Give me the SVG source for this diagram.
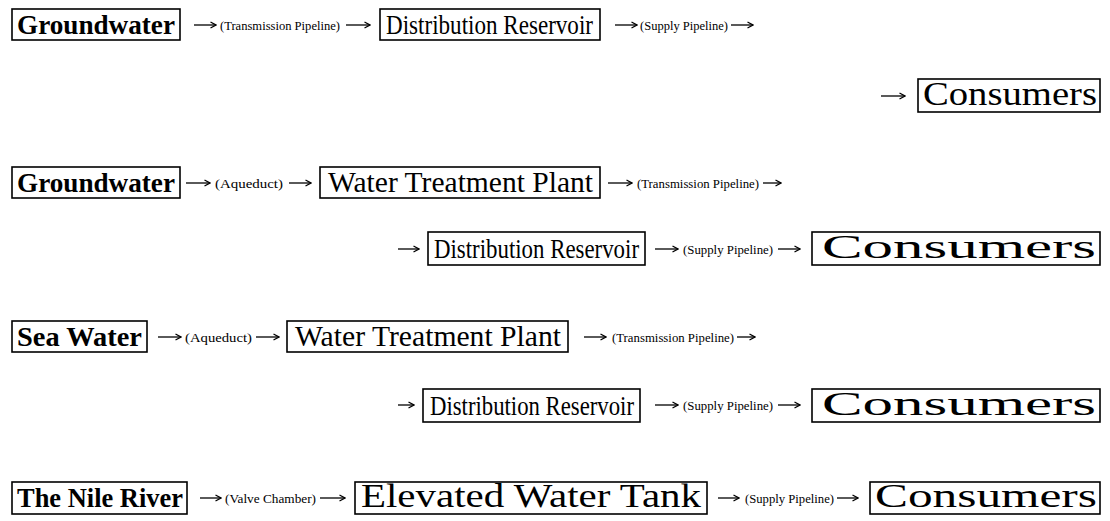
<svg xmlns="http://www.w3.org/2000/svg" width="1110" height="521" viewBox="0 0 1110 521">
<defs>
<marker id="ah" viewBox="0 0 8 8" refX="7" refY="4" markerWidth="8" markerHeight="8" markerUnits="userSpaceOnUse" orient="auto">
<path d="M1.5,1 L7,4 L1.5,7" fill="none" stroke="#000" stroke-width="1.3"/>
</marker>
<style>
rect.n{fill:#fff;stroke:#000;stroke-width:1.6}
text.b{font-family:"Liberation Serif",serif;font-size:28px;font-weight:bold;fill:#000}
text.r{font-family:"Liberation Serif",serif;font-size:29px;fill:#000}
text.s{font-family:"Liberation Serif",serif;font-size:13.5px;fill:#000}
line.c{stroke:#000;stroke-width:1.3;marker-end:url(#ah)}
</style>
</defs>
<rect width="1110" height="521" fill="#fff"/>
<g id="connectors">
<line class="c" x1="194" y1="25" x2="216" y2="25"/>
<line class="c" x1="346" y1="25" x2="370" y2="25"/>
<line class="c" x1="615" y1="25" x2="637" y2="25"/>
<line class="c" x1="731" y1="25" x2="753" y2="25"/>
<line class="c" x1="881" y1="96" x2="905" y2="96"/>
<line class="c" x1="186" y1="183" x2="210" y2="183"/>
<line class="c" x1="289" y1="183" x2="311" y2="183"/>
<line class="c" x1="608" y1="183" x2="632" y2="183"/>
<line class="c" x1="763" y1="183" x2="781" y2="183"/>
<line class="c" x1="398" y1="249" x2="419" y2="249"/>
<line class="c" x1="655" y1="249" x2="678" y2="249"/>
<line class="c" x1="778" y1="249" x2="800" y2="249"/>
<line class="c" x1="158" y1="337" x2="181" y2="337"/>
<line class="c" x1="256" y1="337" x2="279" y2="337"/>
<line class="c" x1="584" y1="337" x2="606" y2="337"/>
<line class="c" x1="737" y1="337" x2="755" y2="337"/>
<line class="c" x1="398" y1="405" x2="414" y2="405"/>
<line class="c" x1="655" y1="405" x2="678" y2="405"/>
<line class="c" x1="778" y1="405" x2="800" y2="405"/>
<line class="c" x1="200" y1="498" x2="221" y2="498"/>
<line class="c" x1="320" y1="498" x2="345" y2="498"/>
<line class="c" x1="718" y1="498" x2="739" y2="498"/>
<line class="c" x1="837" y1="498" x2="858" y2="498"/>
</g>
<g id="labels">
<text class="s" x="220" y="30" textLength="120" lengthAdjust="spacingAndGlyphs">(Transmission Pipeline)</text>
<text class="s" x="640" y="30" textLength="88" lengthAdjust="spacingAndGlyphs">(Supply Pipeline)</text>
<text class="s" x="215" y="188" textLength="68" lengthAdjust="spacingAndGlyphs">(Aqueduct)</text>
<text class="s" x="637" y="188" textLength="122" lengthAdjust="spacingAndGlyphs">(Transmission Pipeline)</text>
<text class="s" x="683" y="254" textLength="90" lengthAdjust="spacingAndGlyphs">(Supply Pipeline)</text>
<text class="s" x="185" y="342" textLength="67" lengthAdjust="spacingAndGlyphs">(Aqueduct)</text>
<text class="s" x="612" y="342" textLength="122" lengthAdjust="spacingAndGlyphs">(Transmission Pipeline)</text>
<text class="s" x="683" y="410" textLength="90" lengthAdjust="spacingAndGlyphs">(Supply Pipeline)</text>
<text class="s" x="225" y="503" textLength="91" lengthAdjust="spacingAndGlyphs">(Valve Chamber)</text>
<text class="s" x="745" y="503" textLength="89" lengthAdjust="spacingAndGlyphs">(Supply Pipeline)</text>
</g>
<g id="n1"><rect class="n" x="12" y="9" width="168" height="31"/><text class="b" x="17" y="34" textLength="158" lengthAdjust="spacingAndGlyphs">Groundwater</text></g>
<g id="n2"><rect class="n" x="380" y="9" width="220" height="31"/><text class="r" x="386" y="34" style="font-size:27px" textLength="207" lengthAdjust="spacingAndGlyphs">Distribution Reservoir</text></g>
<g id="n3"><rect class="n" x="918" y="79" width="182" height="33"/><text class="r" x="923" y="105" style="font-size:34px" textLength="174" lengthAdjust="spacingAndGlyphs">Consumers</text></g>
<g id="n4"><rect class="n" x="12" y="167" width="168" height="31"/><text class="b" x="17" y="192" textLength="158" lengthAdjust="spacingAndGlyphs">Groundwater</text></g>
<g id="n5"><rect class="n" x="320" y="167" width="280" height="31"/><text class="r" x="328" y="192" textLength="265" lengthAdjust="spacingAndGlyphs">Water Treatment Plant</text></g>
<g id="n6"><rect class="n" x="428" y="232" width="217" height="33"/><text class="r" x="434" y="258" style="font-size:28px" textLength="205" lengthAdjust="spacingAndGlyphs">Distribution Reservoir</text></g>
<g id="n7"><rect class="n" x="812" y="232" width="288" height="33"/><text class="r" x="822" y="258" style="font-size:34px" textLength="274" lengthAdjust="spacingAndGlyphs">Consumers</text></g>
<g id="n8"><rect class="n" x="12" y="321" width="135" height="31"/><text class="b" x="17" y="346" textLength="125" lengthAdjust="spacingAndGlyphs">Sea Water</text></g>
<g id="n9"><rect class="n" x="287" y="321" width="281" height="31"/><text class="r" x="295" y="346" textLength="266" lengthAdjust="spacingAndGlyphs">Water Treatment Plant</text></g>
<g id="n10"><rect class="n" x="423" y="389" width="217" height="33"/><text class="r" x="430" y="415" style="font-size:28px" textLength="204" lengthAdjust="spacingAndGlyphs">Distribution Reservoir</text></g>
<g id="n11"><rect class="n" x="812" y="389" width="288" height="33"/><text class="r" x="822" y="415" style="font-size:34px" textLength="274" lengthAdjust="spacingAndGlyphs">Consumers</text></g>
<g id="n12"><rect class="n" x="12" y="482" width="175" height="32"/><text class="b" x="17" y="507" textLength="166" lengthAdjust="spacingAndGlyphs">The Nile River</text></g>
<g id="n13"><rect class="n" x="355" y="482" width="352" height="32"/><text class="r" x="361" y="507" style="font-size:33px" textLength="340" lengthAdjust="spacingAndGlyphs">Elevated Water Tank</text></g>
<g id="n14"><rect class="n" x="870" y="482" width="230" height="32"/><text class="r" x="875" y="507" style="font-size:34px" textLength="222" lengthAdjust="spacingAndGlyphs">Consumers</text></g>
</svg>
